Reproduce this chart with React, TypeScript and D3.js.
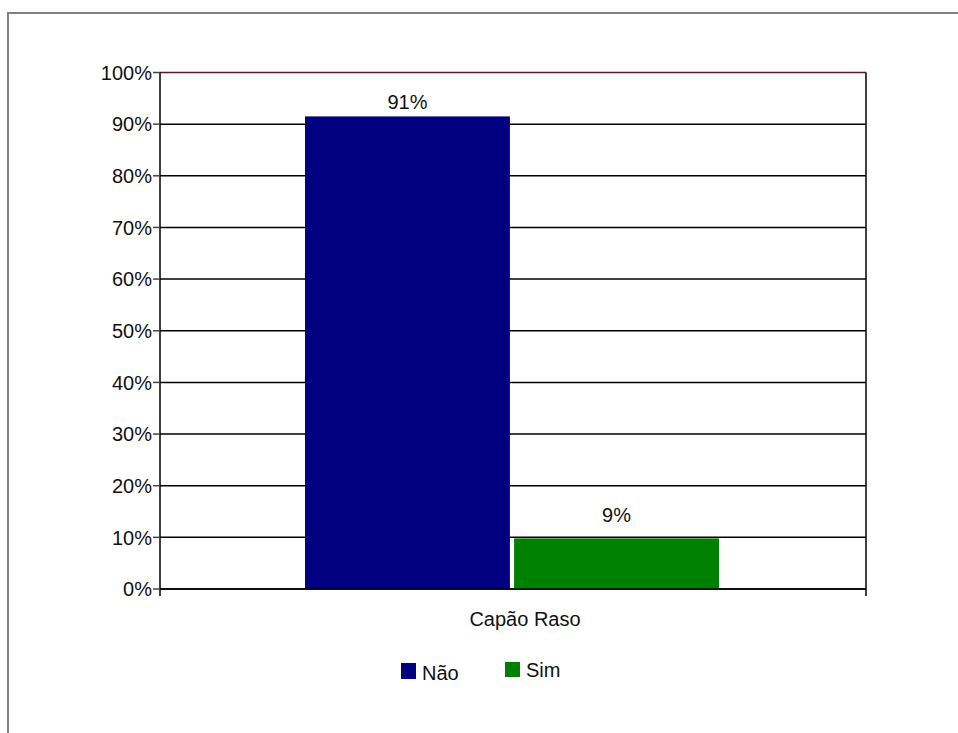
import React from "react";
import * as d3 from "d3";

const category = "Capão Raso";
const seriesNames = ["Não", "Sim"];
const seriesValues = [0.915, 0.098];
const valueLabels = ["91%", "9%"];
const seriesColors = ["#000080", "#008000"];
const yTicks = [0, 0.1, 0.2, 0.3, 0.4, 0.5, 0.6, 0.7, 0.8, 0.9, 1.0];

const W = 958;
const H = 733;
const plot = { left: 160, right: 866, top: 72.5, bottom: 589 };
const FONT = "'Liberation Sans', Arial, sans-serif";

export default function App() {
  const y = d3.scaleLinear().domain([0, 1]).range([plot.bottom, plot.top]);
  const x = d3
    .scaleBand<string>()
    .domain(seriesNames)
    .range([305, 719])
    .paddingInner(0.02);
  const fmt = d3.format(".0%");

  return (
    <svg
      width={W}
      height={H}
      style={{ position: "absolute", left: 0, top: 0, display: "block" }}
      fontFamily={FONT}
    >
      <rect x={0} y={0} width={W} height={H} fill="#fff" />
      <rect x={8} y={13} width={W + 10} height={H + 10} fill="none" stroke="#808080" strokeWidth={2} />

      {yTicks.map((t) => (
        <line
          key={"g" + t}
          x1={plot.left}
          x2={plot.right}
          y1={y(t)}
          y2={y(t)}
          stroke={t === 1 ? "#5a1e1e" : "#000"}
          strokeWidth={1.5}
        />
      ))}

      {seriesNames.map((s, i) => (
        <rect
          key={s}
          x={x(s)}
          y={y(seriesValues[i])}
          width={x.bandwidth()}
          height={plot.bottom - y(seriesValues[i])}
          fill={seriesColors[i]}
        />
      ))}

      {seriesNames.map((s, i) => (
        <text
          key={"l" + s}
          x={(x(s) as number) + x.bandwidth() / 2}
          y={y(seriesValues[i]) - (i === 0 ? 7 : 16)}
          textAnchor="middle"
          fontSize={20}
          fill="#111"
        >
          {valueLabels[i]}
        </text>
      ))}

      <line x1={plot.left} x2={plot.left} y1={plot.top} y2={596} stroke="#000" strokeWidth={1.5} />
      <line x1={plot.right} x2={plot.right} y1={plot.top} y2={596} stroke="#000" strokeWidth={1.5} />
      <line x1={plot.left} x2={plot.right} y1={plot.bottom} y2={plot.bottom} stroke="#000" strokeWidth={1.5} />
      {yTicks.map((t) => (
        <g key={"t" + t}>
          <line x1={153} x2={plot.left} y1={y(t)} y2={y(t)} stroke="#444" strokeWidth={1.5} />
          <text x={152} y={y(t)} dy="0.36em" textAnchor="end" fontSize={20} fill="#111">
            {fmt(t)}
          </text>
        </g>
      ))}

      <text x={525} y={626} textAnchor="middle" fontSize={20} fill="#111">
        {category}
      </text>

      <rect x={401} y={663} width={15} height={16} fill={seriesColors[0]} />
      <text x={422} y={680} fontSize={20} fill="#111">{seriesNames[0]}</text>
      <rect x={505} y={662} width={15} height={15} fill={seriesColors[1]} />
      <text x={526} y={677} fontSize={20} fill="#111">{seriesNames[1]}</text>
    </svg>
  );
}
